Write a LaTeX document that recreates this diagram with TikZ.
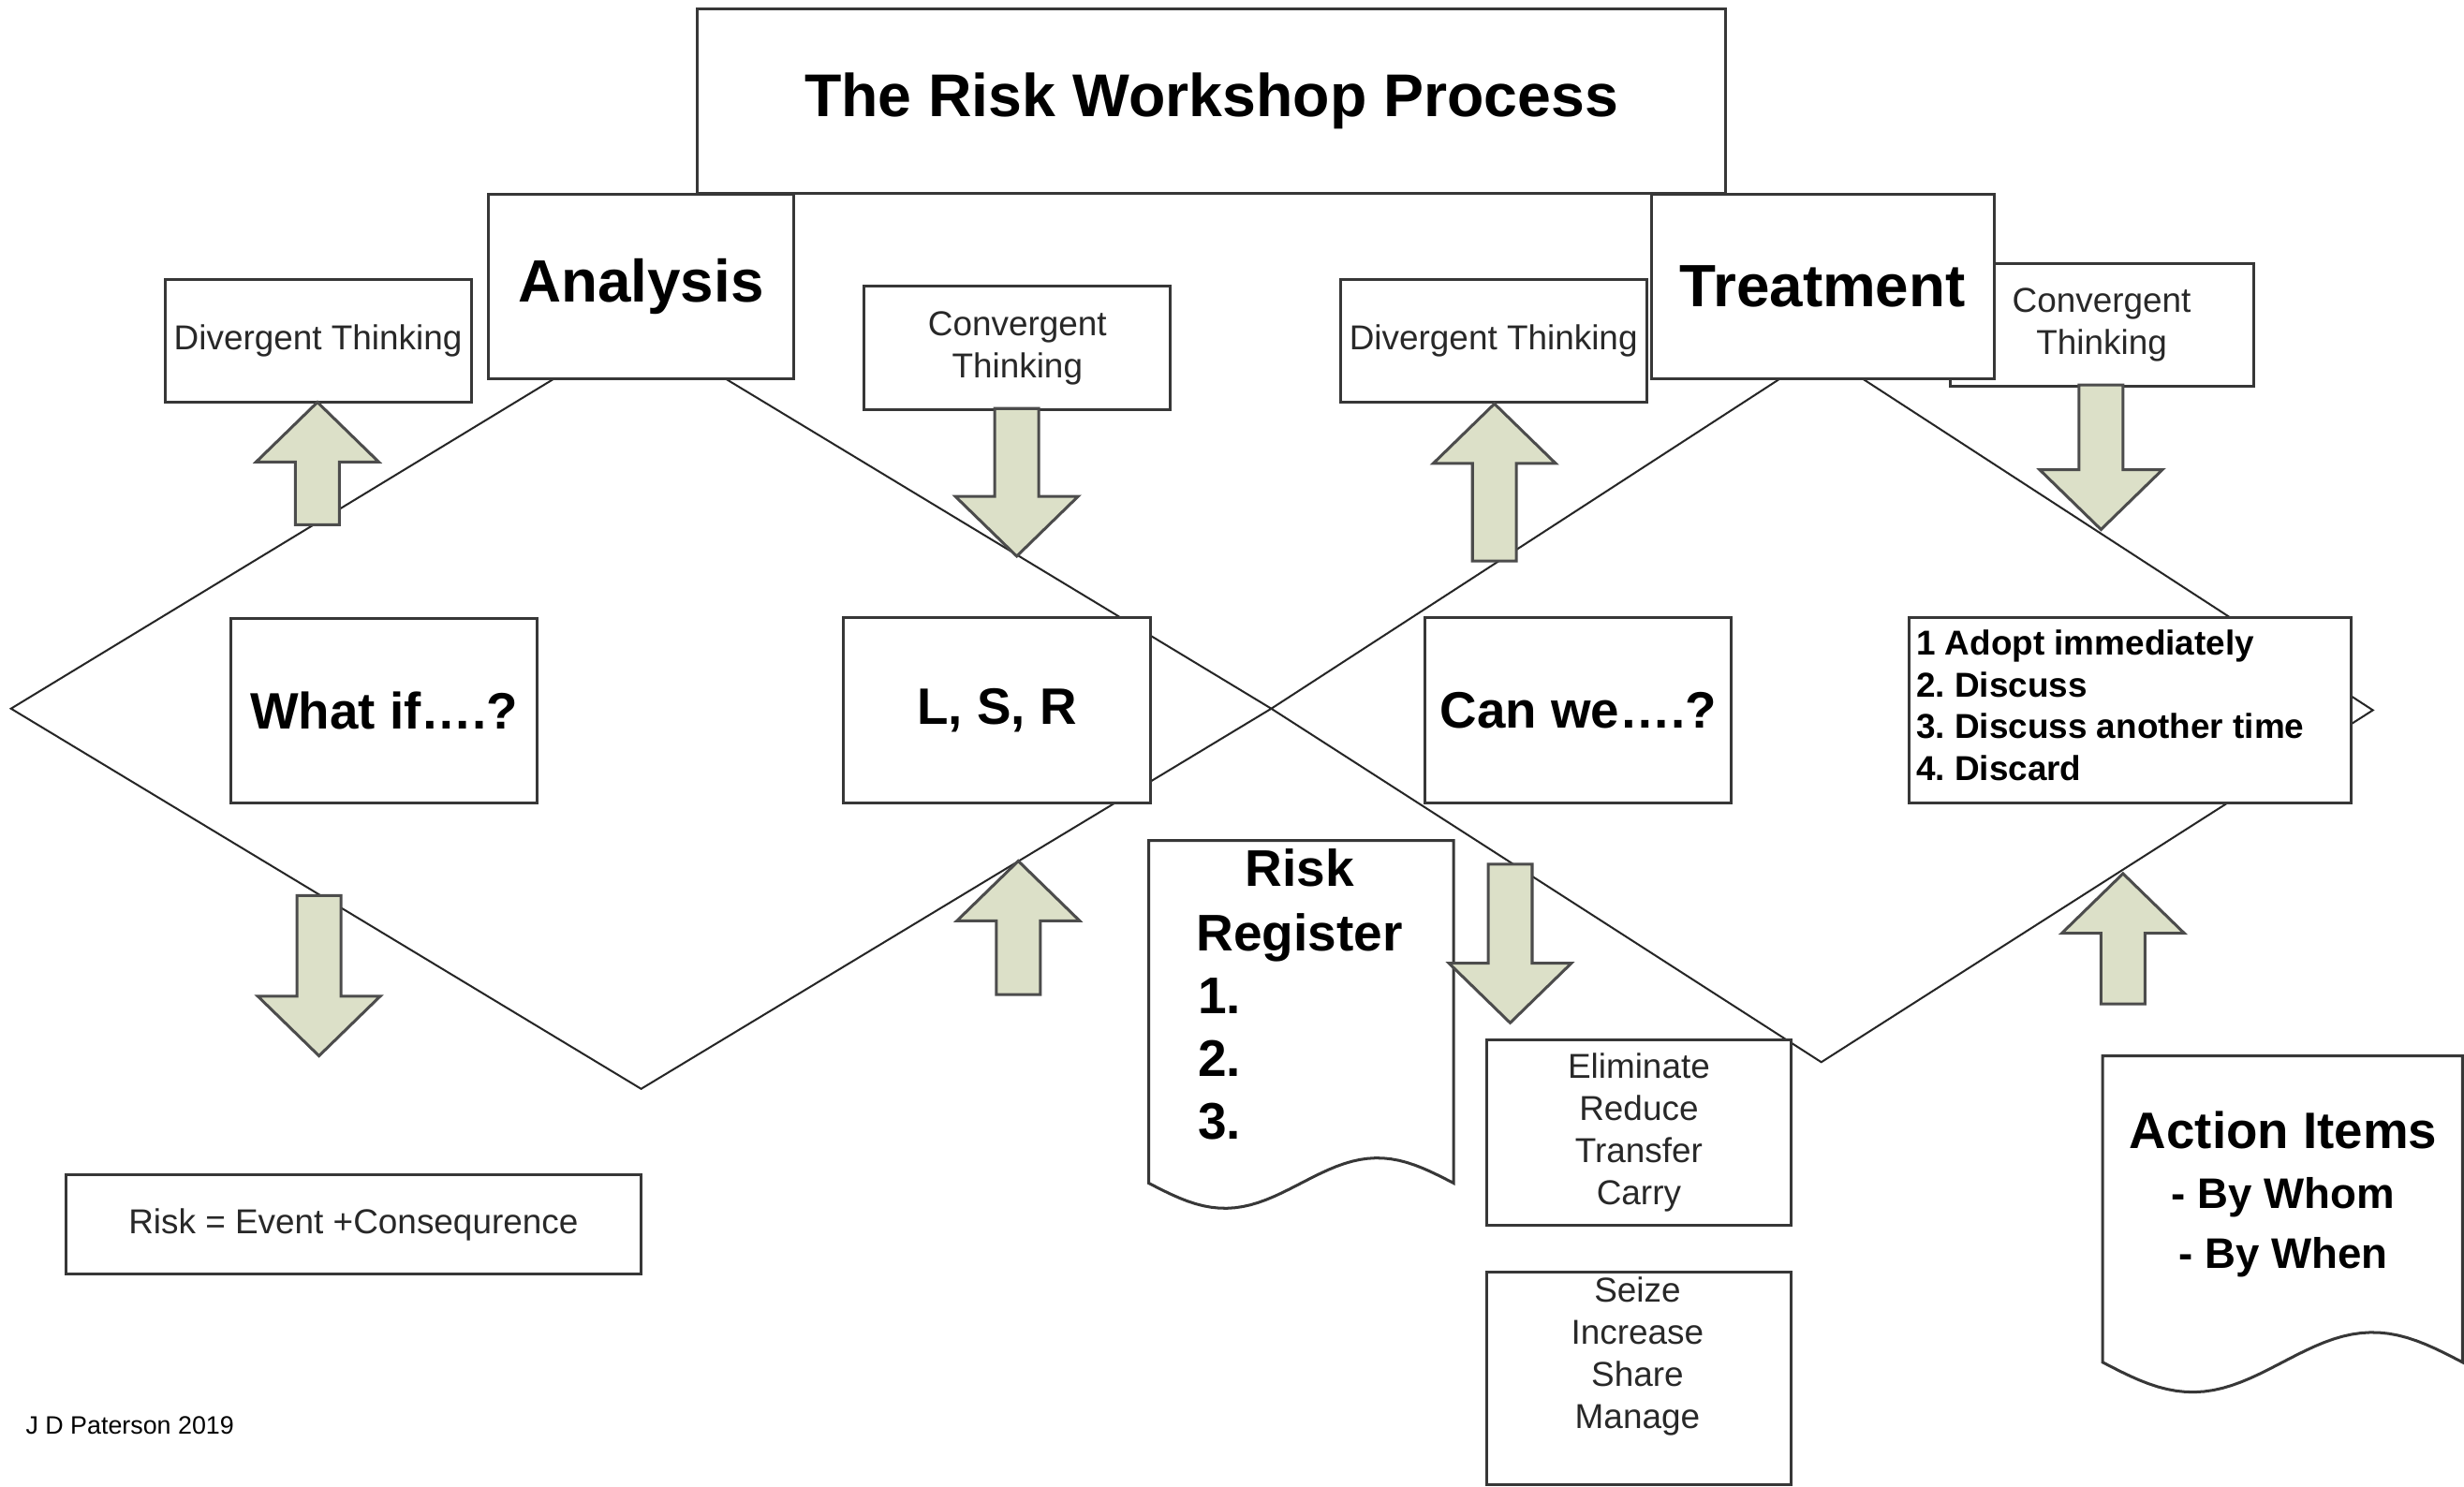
\documentclass[tikz,border=0pt]{standalone}
\usepackage{fontspec}
\setmainfont{Liberation Sans}
\newcommand{\fsz}[2]{\fontsize{#1}{#2}\selectfont}
\definecolor{arrowfill}{RGB}{220,224,200}
\definecolor{edgegray}{RGB}{55,55,55}
\definecolor{txtgray}{RGB}{40,40,40}
\tikzset{
  box/.style={draw=edgegray, line width=0.9pt, fill=white, inner sep=0pt, anchor=north west, align=center},
  dline/.style={draw=black!85, line width=0.6pt},
  barrow/.style={draw=black!70, line width=0.9pt, fill=arrowfill, line join=miter},
  txt/.style={inner sep=0pt, align=center},
  doc/.style={draw=edgegray, line width=0.9pt, fill=white},
  regtxt/.style={font=\fsz{11}{13.4}, text=txtgray},
}
\newcommand{\blockup}[3]{% cx, tip y, bottom y
  \draw[barrow] (#1,#2) -- (#1+39,#2+38) -- (#1+14,#2+38) -- (#1+14,#3) -- (#1-14,#3) -- (#1-14,#2+38) -- (#1-39,#2+38) -- cycle;}
\newcommand{\blockdown}[3]{% cx, top y, tip y
  \draw[barrow] (#1,#3) -- (#1+39,#3-38) -- (#1+14,#3-38) -- (#1+14,#2) -- (#1-14,#2) -- (#1-14,#3-38) -- (#1-39,#3-38) -- cycle;}
\frenchspacing
\begin{document}
\frenchspacing
\begin{tikzpicture}[x=0.5pt,y=-0.5pt]
\useasboundingbox (0,0) rectangle (1568,946);
\fill[white] (0,0) rectangle (1568,946);

% diamonds
\coordinate (dlL) at (7,451);
\coordinate (dlT) at (407,208);
\coordinate (dlR) at (809,451);
\coordinate (dlB) at (408,693);
\coordinate (drT) at (1159,224);
\coordinate (drR) at (1510,452);
\coordinate (drB) at (1159,676);
\draw[dline] (dlL) -- (dlT) -- (dlR) -- (dlB) -- cycle;
\draw[dline] (dlR) -- (drT) -- (drR) -- (drB) -- cycle;

% top boxes
\node[box, minimum width=327pt, minimum height=58.5pt, font=\fsz{19.2}{23}\bfseries] (title) at (443,5) {The Risk Workshop Process};
\node[box, minimum width=96.5pt, minimum height=39pt, regtxt] (convR) at (1240,167) {Convergent\\Thinking};
\node[box, minimum width=97pt, minimum height=58.5pt, font=\fsz{19}{23}\bfseries] (analysis) at (310,123) {Analysis};
\node[box, minimum width=109pt, minimum height=58.5pt, font=\fsz{19}{23}\bfseries] (treat) at (1050,123) {Treatment};
\node[box, minimum width=97.5pt, minimum height=39pt, regtxt] (divL) at (104,177) {Divergent Thinking};
\node[box, minimum width=97.5pt, minimum height=39.5pt, regtxt] (convM) at (549,181) {Convergent\\Thinking};
\node[box, minimum width=97.5pt, minimum height=39pt, regtxt] (divM) at (852,177) {Divergent Thinking};

% middle boxes
\node[box, minimum width=97.5pt, minimum height=58.5pt, font=\fsz{16.3}{20}\bfseries] (whatif) at (146,393) {What if….?};
\node[box, minimum width=97.5pt, minimum height=59pt, font=\fsz{16.3}{20}\bfseries] (lsr) at (536,392) {L, S, R};
\node[box, minimum width=97.5pt, minimum height=59pt, font=\fsz{16.3}{20}\bfseries] (canwe) at (906,392) {Can we….?};
\node[box, minimum width=140.5pt, minimum height=59pt] (adopt) at (1214,392) {};
\node[txt, align=left, anchor=west, font=\fsz{11}{13.3}\bfseries] (adoptt) at (1219,449) {1 Adopt immediately\\2. Discuss\\3. Discuss another time\\4. Discard};

% Risk register document
\draw[doc] (731,753) -- (731,535) -- (925,535) -- (925,753) -- plot[domain=1:0, samples=40] ({731+194*\x},{753+16*sin(360*\x)}) -- cycle;
\node[txt, font=\fsz{16.4}{20.5}\bfseries] (rrtitle) at (827,576) {Risk\\Register};
\node[txt, align=left, anchor=west, font=\fsz{16.4}{20}\bfseries] (rrlist) at (762,674) {1.\\2.\\3.};

% Action items document
\draw[doc] (1338,867) -- (1338,672) -- (1567,672) -- (1567,867) -- plot[domain=1:0, samples=40] ({1338+229*\x},{867+19*sin(360*\x)}) -- cycle;
\node[txt, font=\fsz{13.6}{19}\bfseries] (actt) at (1453,760) {{\fontsize{16.3}{19}\selectfont Action Items}\\- By Whom\\- By When};

% lower boxes
\node[box, minimum width=97pt, minimum height=59pt, regtxt] (elim) at (945,661) {Eliminate\\Reduce\\Transfer\\Carry};
\node[box, minimum width=97pt, minimum height=67.5pt] (seize) at (945,809) {};
\node[txt, regtxt] (seizet) at (1042,863) {Seize\\Increase\\Share\\Manage};
\node[box, minimum width=183pt, minimum height=31.5pt, regtxt] (riskeq) at (41,747) {Risk = Event +Consequrence};
\node[txt, anchor=west, font=\fsz{8}{10}] (jdp) at (16,907) {J D Paterson 2019};

% block arrows
\blockup{202}{256}{334}
\blockdown{647}{260}{354}
\blockup{951}{257}{357}
\blockdown{1337}{245}{337}
\blockdown{203}{570}{672}
\blockup{648}{548}{633}
\blockdown{961}{550}{651}
\blockup{1351}{556}{639}
\end{tikzpicture}
\end{document}
